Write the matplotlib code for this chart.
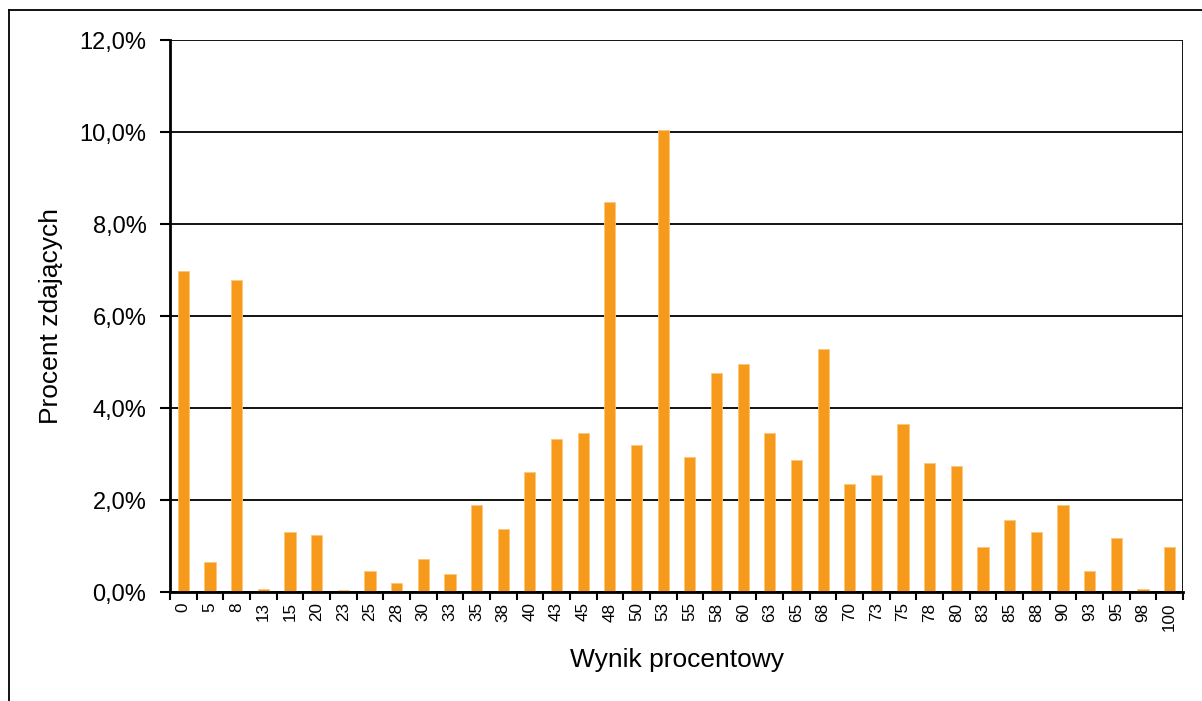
import matplotlib
matplotlib.use("Agg")
import matplotlib.pyplot as plt
from matplotlib.lines import Line2D
from matplotlib.ticker import FuncFormatter, FixedLocator

plt.rcParams['font.family'] = ['Liberation Sans', 'DejaVu Sans']

categories = ["0", "5", "8", "13", "15", "20", "23", "25", "28", "30", "33", "35", "38",
              "40", "43", "45", "48", "50", "53", "55", "58", "60", "63", "65", "68",
              "70", "73", "75", "78", "80", "83", "85", "88", "90", "93", "95", "98", "100"]
values = [6.98, 0.65, 6.78, 0.06, 1.30, 1.24, 0.05, 0.46, 0.20, 0.72, 0.39, 1.89, 1.37,
          2.61, 3.33, 3.46, 8.48, 3.20, 10.05, 2.93, 4.76, 4.96, 3.46, 2.87, 5.28,
          2.35, 2.54, 3.65, 2.80, 2.74, 0.98, 1.57, 1.30, 1.89, 0.46, 1.17, 0.06, 0.98]

fig = plt.figure(figsize=(12.02, 7.01), dpi=100)
W, H = 1202, 701
left, right, top, bottom = 170, 1183, 40, 592
ax = fig.add_axes([left / W, 1 - bottom / H, (right - left) / W, (bottom - top) / H])

x = list(range(len(categories)))
ax.bar(x, values, width=0.42, color='#F7991A', edgecolor='#FBC77A', linewidth=0.6, zorder=3)

ax.set_xlim(-0.5, len(categories) - 0.5)
ax.set_ylim(0, 12)
ax.set_yticks([0, 2, 4, 6, 8, 10, 12])
ax.yaxis.set_major_formatter(FuncFormatter(lambda v, p: f"{v:.1f}%".replace('.', ',')))
ax.grid(axis='y', color='black', linewidth=1.3, zorder=1)
ax.set_axisbelow(True)

ax.xaxis.set_major_locator(FixedLocator([i - 0.5 for i in range(len(categories) + 1)]))
ax.xaxis.set_major_formatter(FuncFormatter(lambda v, p: ''))
ax.set_xticks(x, minor=True)
ax.set_xticklabels(categories, minor=True, rotation=90, fontsize=12.3)
ax.tick_params(axis='x', which='minor', length=0, pad=7.5)
ax.tick_params(axis='x', which='major', length=6, width=1.5, direction='out')
ax.tick_params(axis='y', length=7, width=1.5, direction='out', labelsize=17, pad=10)

for s in ['top', 'right']:
    ax.spines[s].set_visible(False)
for s in ['left', 'bottom']:
    ax.spines[s].set_linewidth(2)
ax.spines['left'].set_zorder(4)
ax.spines['bottom'].set_zorder(4)

# right edge line of plot area
ax.axvline(len(categories) - 0.5, color='black', linewidth=2, zorder=4)

ax.set_ylabel("Procent zdających", fontsize=19, labelpad=12)
ax.set_xlabel("Wynik procentowy", fontsize=19, labelpad=12)

# outer frame (top and left edges)
fig.add_artist(Line2D([9 / W, 1], [1 - 10 / H, 1 - 10 / H], transform=fig.transFigure, color='black', linewidth=1.3))
fig.add_artist(Line2D([9 / W, 9 / W], [0, 1 - 10 / H], transform=fig.transFigure, color='black', linewidth=1.3))

fig.savefig("out.png", dpi=100)
